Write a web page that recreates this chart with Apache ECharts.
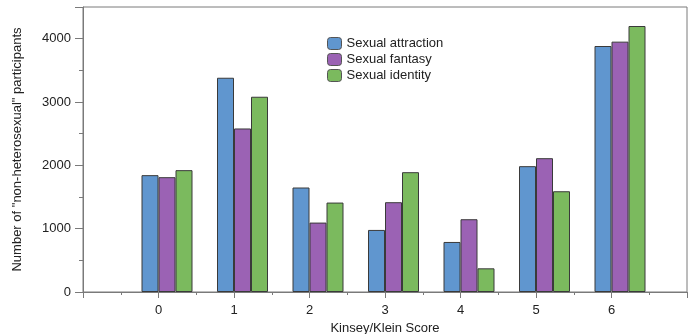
<!DOCTYPE html>
<html>
<head>
<meta charset="utf-8">
<script src="https://cdn.jsdelivr.net/npm/echarts@6/dist/echarts.min.js"></script>
<style>html,body{margin:0;padding:0;background:#fff}#c{width:696px;height:334px}</style>
</head>
<body>
<div id="c"></div>
<script>
const scores = [0, 1, 2, 3, 4, 5, 6];
const seriesNames = ['Sexual attraction', 'Sexual fantasy', 'Sexual identity'];
const attraction = [1845, 3383, 1650, 980, 790, 1987, 3884];
const fantasy = [1813, 2582, 1096, 1418, 1149, 2113, 3953];
const identity = [1924, 3083, 1412, 1892, 374, 1591, 4200];
const yTicks = [0, 1000, 2000, 3000, 4000];
const colors = ['#6096cf', '#9b62b4', '#7bba5e'];

const FONT = 'Liberation Sans, Arial, sans-serif';
const axisGray = '#7a7a7a';
const valuesList = [attraction, fantasy, identity];

const chart = echarts.init(document.getElementById('c'), null, {renderer: 'canvas'});

const barSeries = valuesList.map((vals, i) => ({
  name: seriesNames[i],
  type: 'bar',
  xAxisIndex: 0,
  yAxisIndex: 0,
  barWidth: 17,
  barGap: '0%',
  data: scores.map((s, j) => [s, vals[j]]),
  itemStyle: {color: colors[i], borderColor: '#3a3a3a', borderWidth: 1},
  emphasis: {disabled: true},
  animation: false
}));

// empty slot series: occupies the first bar slot of each group (as in the original layout)
const slotSeries = {
  name: 'slot',
  type: 'bar',
  xAxisIndex: 0,
  yAxisIndex: 0,
  barWidth: 17,
  barGap: '0%',
  data: scores.map(s => [s, '-']),
  itemStyle: {opacity: 0},
  silent: true,
  animation: false
};

chart.setOption({
  animation: false,
  backgroundColor: '#fff',
  grid: {left: 83, right: 9, top: 7, bottom: 42, show: true, borderColor: axisGray, borderWidth: 1,
         containLabel: false, outerBoundsMode: 'none'},
  legend: {
    data: seriesNames.map(n => ({name: n, icon: 'roundRect'})),
    orient: 'vertical',
    left: 327, top: 37,
    itemWidth: 14, itemHeight: 12, itemGap: 3,
    padding: 0,
    textStyle: {fontFamily: FONT, fontSize: 13, color: '#222'},
    itemStyle: {borderColor: '#555', borderWidth: 1}
  },
  xAxis: [{
    type: 'value',
    min: -1, max: 7, interval: 1,
    name: 'Kinsey/Klein Score',
    nameLocation: 'middle',
    nameGap: 24,
    nameTextStyle: {fontFamily: FONT, fontSize: 13, color: '#222'},
    axisLine: {show: true, onZero: false, lineStyle: {color: axisGray, width: 1}},
    axisTick: {show: true, length: 6, lineStyle: {color: axisGray}},
    minorTick: {show: true, splitNumber: 2, length: 3, lineStyle: {color: axisGray}},
    splitLine: {show: false},
    axisLabel: {
      fontFamily: FONT, fontSize: 13, color: '#222', margin: 12,
      formatter: v => (scores.indexOf(v) >= 0 ? String(v) : '')
    }
  }],
  yAxis: [{
    type: 'value',
    min: 0, max: 4500, interval: 500,
    name: 'Number of "non-heterosexual" participants',
    nameLocation: 'middle',
    nameGap: 59,
    nameTextStyle: {fontFamily: FONT, fontSize: 13, color: '#222'},
    axisLine: {show: true, onZero: false, lineStyle: {color: axisGray, width: 1}},
    axisTick: {show: true, length: 4, lineStyle: {color: axisGray}},
    splitLine: {show: false},
    axisLabel: {
      fontFamily: FONT, fontSize: 13, color: '#222', margin: 12,
      formatter: v => (yTicks.indexOf(v) >= 0 ? String(v) : '')
    }
  }, {
    type: 'value',
    min: 0, max: 4500, interval: 1000,
    position: 'left',
    gridIndex: 0,
    show: true,
    axisLine: {show: false, onZero: false},
    axisTick: {show: true, length: 8, lineStyle: {color: axisGray}},
    axisLabel: {show: false},
    splitLine: {show: false}
  }],
  series: [slotSeries].concat(barSeries)
});
</script>
</body>
</html>
